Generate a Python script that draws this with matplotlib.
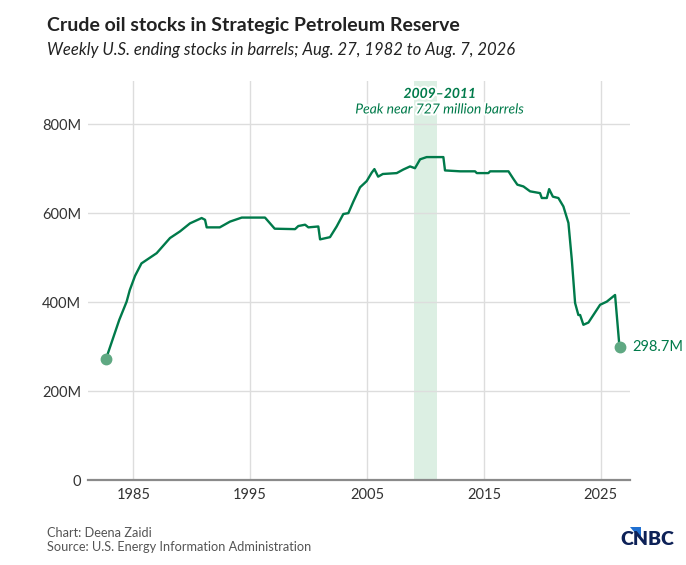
import numpy as np
import matplotlib
matplotlib.use("Agg")
import matplotlib.pyplot as plt
import matplotlib.patheffects as pe
from matplotlib.patches import Polygon

plt.rcParams['font.family'] = ['Lato', 'DejaVu Sans']

# SPR crude stocks (year, million barrels)
years = [1982.65, 1983.8, 1984.43, 1984.7, 1985.15, 1985.7, 1987.0, 1988.14, 1989.0,
         1989.85, 1990.85, 1991.14, 1991.28, 1992.4, 1993.28, 1994.28, 1996.27, 1997.1,
         1998.84, 1999.12, 1999.7, 1999.98, 2000.83, 2000.98, 2001.83, 2002.4, 2002.97,
         2003.4, 2003.83, 2004.4, 2004.97, 2005.4, 2005.63, 2005.95, 2006.35, 2007.54,
         2008.1, 2008.68, 2009.1, 2009.54, 2010.1, 2011.53, 2011.67, 2012.96, 2014.24,
         2014.39, 2015.38, 2015.53, 2017.1, 2017.52, 2017.86, 2018.38, 2018.95, 2019.8,
         2019.95, 2020.38, 2020.58, 2020.9, 2021.37, 2021.8, 2022.23, 2022.52, 2022.8,
         2023.08, 2023.23, 2023.51, 2023.94, 2024.94, 2025.51, 2026.22, 2026.6]
stocks = [271, 360, 401, 427, 459, 487, 510, 544, 559,
          577, 589, 585, 568, 568, 581, 590, 590, 565,
          564, 571, 574, 568, 570, 541, 546, 570, 598,
          600, 626, 658, 672, 691, 699, 682, 688, 690,
          698, 705, 701, 721, 726, 726, 696, 694, 694,
          690, 690, 694, 694, 677, 664, 660, 649, 645,
          634, 634, 654, 637, 634, 615, 578, 495, 398,
          371, 371, 349, 354, 394, 401, 416, 298.7]

band = (2009, 2011)
yticks = [0, 200, 400, 600, 800]
ytick_labels = ['0', '200M', '400M', '600M', '800M']
xticks = [1985, 1995, 2005, 2015, 2025]

green = '#007a4a'
dot_green = '#5fa882'

fig = plt.figure(figsize=(6.86, 5.65), dpi=100)
ax = fig.add_axes([0.1287, 0.1504, 0.7897, 0.7062])

ax.axvspan(band[0], band[1], color='#dcefe3', lw=0, zorder=0)
ax.plot(years, stocks, color=green, lw=1.7, zorder=3, solid_joinstyle='round')
ax.plot([years[0], years[-1]], [stocks[0], stocks[-1]], 'o', ms=7.5,
        color=dot_green, zorder=4)

ax.set_xlim(1981.15, 2027.5)
ax.set_ylim(0, 897)
ax.set_xticks(xticks)
ax.set_yticks(yticks)
ax.set_yticklabels(ytick_labels)
ax.tick_params(axis='both', length=0, labelsize=10.5, colors='#333333')
ax.tick_params(axis='x', pad=6)
ax.tick_params(axis='y', pad=5)
ax.grid(True, color='#dddddd', lw=1)
ax.set_axisbelow(True)
for s in ['left', 'right', 'top']:
    ax.spines[s].set_visible(False)
ax.spines['bottom'].set_color('#8a8a8a')
ax.spines['bottom'].set_linewidth(1.6)
ax.spines['bottom'].set_zorder(5)

halo = [pe.withStroke(linewidth=3, foreground='white')]
ax.text(2011.2, 868, '2009\u20132011', ha='center', va='center', color=green,
        fontsize=10, fontweight='bold', style='italic', path_effects=halo)
ax.text(2011.2, 833, 'Peak near 727 million barrels', ha='center', va='center',
        color=green, fontsize=10, style='italic', path_effects=halo)
ax.annotate('%.1fM' % stocks[-1], (years[-1], stocks[-1]), xytext=(9, 0),
            textcoords='offset points', va='center', ha='left', color=green,
            fontsize=10.5, annotation_clip=False)

fig.text(0.0685, 0.955, 'Crude oil stocks in Strategic Petroleum Reserve',
         fontsize=14, fontweight='bold', color='#222222', va='center')
fig.text(0.0685, 0.911, 'Weekly U.S. ending stocks in barrels; Aug. 27, 1982 to Aug. 7, 2026',
         fontsize=12, style='italic', color='#222222', va='center')
fig.text(0.0685, 0.057, 'Chart: Deena Zaidi', fontsize=9.2, color='#555555', va='center')
fig.text(0.0685, 0.031, 'Source: U.S. Energy Information Administration', fontsize=9.2,
         color='#555555', va='center')

# CNBC wordmark
fig.text(0.983, 0.045, 'CNBC', fontsize=14, fontweight='heavy', color='#0d2157',
         ha='right', va='center')
fig.patches.append(Polygon([[0.918, 0.068], [0.935, 0.068], [0.935, 0.045]],
                           closed=True, transform=fig.transFigure,
                           color='#1f6fd1', lw=0))

fig.savefig('out.png', dpi=100)
